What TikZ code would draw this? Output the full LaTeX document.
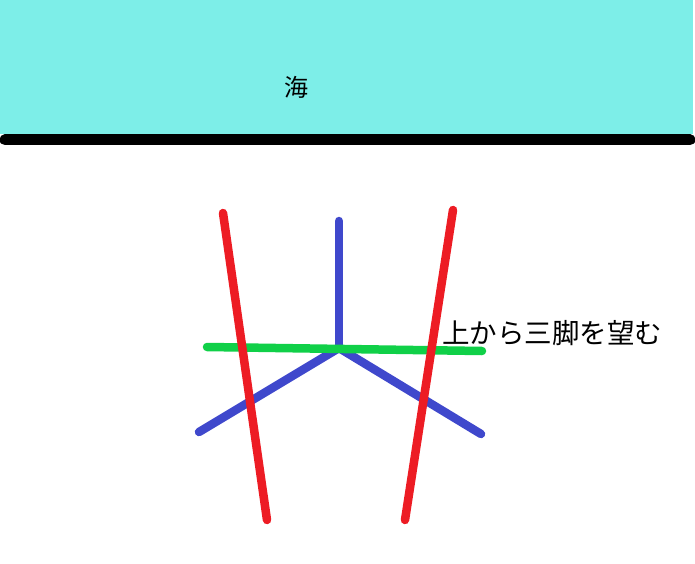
\documentclass[tikz,border=0pt]{standalone}
\usepackage{fontspec}
\newfontfamily\jpfont{Noto Sans CJK JP}
\definecolor{seacol}{RGB}{125,238,232}
\definecolor{legred}{RGB}{237,28,36}
\definecolor{legblue}{RGB}{63,72,204}
\definecolor{barcol}{RGB}{16,208,72}
\tikzset{
  stroke/.style={line width=8.5pt, line cap=round},
}

\begin{document}
\begin{tikzpicture}[x=1pt,y=-1pt]
  \useasboundingbox (0,0) rectangle (695,564);
  % sea and shore
  \fill[seacol] (0,0) rectangle (693,134);
  \draw[line width=11pt, line cap=round] (5,140) -- (690,140);
  \node[font=\jpfont\fontsize{24}{28}\selectfont] (sea) at (296,87) {海};
  % tripod seen from above
  \coordinate (top) at (339,221);
  \coordinate (hub) at (339,348);
  \coordinate (legL) at (199,432);
  \coordinate (legR) at (481,434);
  \draw[stroke, legblue] (top) -- (hub);
  \draw[stroke, legblue] (legL) -- (hub) -- (legR);
  \coordinate (barL) at (207,347);
  \coordinate (barR) at (482,351);
  \draw[stroke, barcol] (barL) -- (barR);
  \coordinate (r1a) at (223,213);
  \coordinate (r1b) at (267,520);
  \coordinate (r2a) at (453,210);
  \coordinate (r2b) at (405,520);
  \draw[stroke, legred] (r1a) -- (r1b);
  \draw[stroke, legred] (r2a) -- (r2b);
  \node[font=\jpfont\fontsize{27.5}{32}\selectfont, anchor=west, inner sep=0pt] (title) at (442,333) {上から三脚を望む};
\end{tikzpicture}
\end{document}
